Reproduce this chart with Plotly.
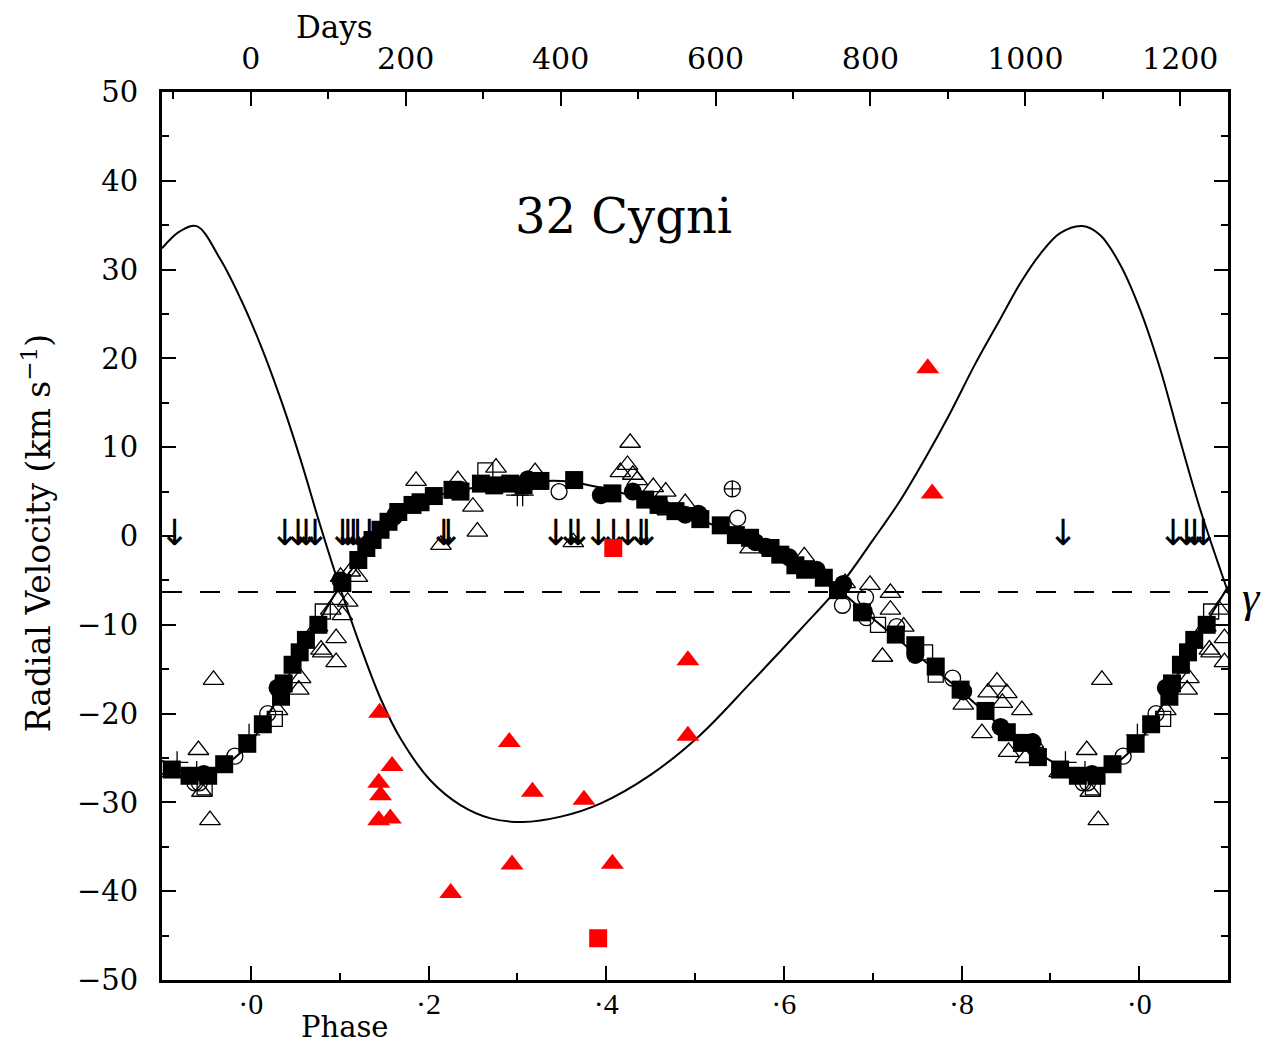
import plotly.graph_objects as go

# ---- data (orbital phase, radial velocity km/s) ----
gamma = -6.3
period_days = 1147

# primary (K star) - filled squares
sq_phase = [0.0135, 0.034, 0.037, 0.047, 0.055, 0.062, 0.076, 0.103, 0.121, 0.130,
            0.137, 0.146, 0.155, 0.166, 0.182, 0.191, 0.206, 0.227, 0.236, 0.259,
            0.274, 0.292, 0.307, 0.326, 0.364, 0.407, 0.444, 0.459, 0.478, 0.506,
            0.529, 0.546, 0.562, 0.585, 0.596, 0.613, 0.624, 0.645, 0.661, 0.688,
            0.726, 0.748, 0.771, 0.799, 0.827, 0.851, 0.868, 0.886, 0.911, 0.931,
            0.952, 0.970, 0.996]
sq_vel = [-21.2, -18.1, -16.6, -14.5, -13.1, -11.7, -10.0, -5.3, -2.7, -1.35,
          -0.45, 0.7, 1.6, 2.7, 3.5, 3.8, 4.5, 5.2, 5.0, 5.9,
          5.7, 5.9, 5.7, 6.2, 6.3, 4.8, 4.1, 3.5, 2.8, 1.9,
          1.2, 0.1, -0.2, -1.35, -2.1, -3.3, -3.8, -4.7, -6.1, -8.6,
          -11.1, -12.3, -14.7, -17.3, -19.7, -22.1, -23.3, -24.9, -26.3, -27.0,
          -27.0, -25.7, -23.4]

# filled circles
fc_phase = [0.030, 0.101, 0.163, 0.236, 0.312, 0.394, 0.430, 0.489, 0.504, 0.568,
            0.580, 0.606, 0.637, 0.667, 0.690, 0.748, 0.802, 0.844, 0.880, 0.947]
fc_vel = [-17.1, -5.0, 2.4, 5.2, 6.4, 4.6, 5.0, 2.4, 2.5, -0.7,
          -1.2, -2.4, -3.8, -5.4, -8.5, -13.4, -17.5, -21.5, -23.2, -26.8]

# open circles
oc_phase = [0.019, 0.161, 0.347, 0.548, 0.666, 0.692, 0.693, 0.727, 0.790, 0.937, 0.942, 0.982]
oc_vel = [-20.0, 2.1, 5.0, 2.0, -7.8, -6.9, -9.2, -10.2, -16.0, -27.8, -27.8, -24.8]

# circle with cross
cx_phase = [0.542]
cx_vel = [5.3]

# open squares
os_phase = [0.027, 0.081, 0.264, 0.706, 0.759, 0.771, 0.948]
os_vel = [-20.6, -8.5, 7.4, -10.0, -13.1, -15.6, -28.3]

# plus signs
pl_phase = [0.300, 0.306, 0.917, 0.939, 0.998]
pl_vel = [4.6, 4.6, -25.5, -26.6, -22.4]

# open triangles
tr_phase = [0.030, 0.054, 0.056, 0.075, 0.079, 0.081, 0.090, 0.096, 0.096, 0.098,
            0.101, 0.103, 0.109, 0.112, 0.120, 0.186, 0.214, 0.233, 0.250, 0.255,
            0.276, 0.320, 0.363, 0.416, 0.424, 0.427, 0.430, 0.435, 0.453, 0.467,
            0.469, 0.489, 0.562, 0.623, 0.669, 0.697, 0.711, 0.720, 0.720, 0.735,
            0.802, 0.823, 0.830, 0.840, 0.846, 0.851, 0.853, 0.868, 0.872, 0.881,
            0.910, 0.941, 0.945, 0.954, 0.958]
tr_vel = [-19.6, -17.3, -16.0, -10.2, -12.8, -13.1, -8.3, -11.5, -14.2, -7.2,
          -4.6, -8.9, -7.4, -4.0, -4.6, 6.2, -1.0, 6.3, 3.3, 0.5,
          7.7, 7.2, -0.7, 7.2, 8.0, 10.5, 6.9, 6.3, 5.5, 5.0,
          2.9, 3.7, -1.4, -2.3, -5.3, -5.5, -13.6, -6.4, -8.3, -10.2,
          -19.0, -22.2, -17.6, -16.4, -18.8, -17.7, -24.3, -19.6, -25.0, -23.3,
          -26.6, -24.1, -28.8, -32.0, -16.2]

# upper limits (arrows)
ar_phase = [0.914, 0.038, 0.053, 0.062, 0.072, 0.103, 0.109, 0.115, 0.120, 0.133,
            0.217, 0.222, 0.343, 0.360, 0.368, 0.391, 0.408, 0.424, 0.439, 0.445]

# secondary (B star) measurements - red
rt_phase = [0.145, 0.144, 0.146, 0.159, 0.144, 0.157, 0.225, 0.291, 0.294, 0.317,
            0.375, 0.407, 0.492, 0.492, 0.762, 0.767]
rt_vel = [-19.9, -27.8, -29.2, -25.9, -32.0, -31.8, -40.2, -23.2, -37.0, -28.8,
          -29.7, -36.9, -14.0, -22.5, 18.9, 4.8]
rs_phase = [0.408, 0.391]
rs_vel = [-1.35, -45.3]

# orbit curves
k_curve_phase = [-0.10, -0.07, -0.05, -0.03, 0.00, 0.025, 0.05, 0.075, 0.10, 0.125,
                 0.15, 0.20, 0.25, 0.30, 0.35, 0.40, 0.45, 0.50, 0.55, 0.60,
                 0.65, 0.70, 0.75, 0.80, 0.85, 0.90, 0.93, 0.95, 0.97, 1.00,
                 1.025, 1.05, 1.075, 1.10]
k_curve_vel = [-25.3, -26.9, -27.1, -25.9, -23.2, -19.2, -14.3, -9.9, -5.7, -2.2,
               0.8, 4.2, 5.4, 6.0, 6.2, 5.3, 3.9, 2.1, -0.1, -2.5,
               -5.2, -9.3, -13.4, -17.5, -21.9, -25.3, -26.9, -27.1, -25.9, -23.2,
               -19.2, -14.3, -9.9, -5.7]

b_curve_phase = [-0.100, -0.080, -0.061, -0.034, -0.011, 0.011, 0.034, 0.056, 0.079, 0.101,
                 0.124, 0.146, 0.169, 0.202, 0.236, 0.270, 0.306, 0.349, 0.394, 0.450,
                 0.506, 0.562, 0.619, 0.664, 0.700, 0.731, 0.760, 0.787, 0.815, 0.844,
                 0.867, 0.889, 0.911, 0.936, 0.956, 0.979, 1.001, 1.024, 1.046, 1.069,
                 1.100]
b_curve_vel = [32.4, 34.3, 34.9, 31.1, 26.6, 21.5, 15.3, 8.6, 0.9, -6.0,
               -12.6, -18.3, -22.9, -27.5, -30.3, -31.8, -32.2, -31.6, -30.1, -26.9,
               -22.4, -16.6, -10.5, -5.5, -0.5, 4.0, 8.9, 13.8, 19.3, 24.5,
               28.6, 31.8, 34.1, 34.9, 33.9, 30.5, 25.5, 18.7, 10.8, 2.9,
               -6.3]

day_ticks = [0, 200, 400, 600, 800, 1000, 1200]
phase_ticks = [0, 0.2, 0.4, 0.6, 0.8, 1.0]
phase_labels = ['·0', '·2', '·4', '·6', '·8', '·0']


def wrap(ph, v=None):
    """repeat points near the ends so the phase axis runs -0.1 .. 1.1"""
    xs, ys = [], []
    for i, p in enumerate(ph):
        y = v[i] if v is not None else 0
        xs.append(p); ys.append(y)
        if p >= 0.9:
            xs.append(p - 1); ys.append(y)
        if p < 0.1:
            xs.append(p + 1); ys.append(y)
    return xs, ys


fig = go.Figure()

# gamma velocity
fig.add_trace(go.Scatter(x=[-0.1, 1.1], y=[gamma, gamma], mode='lines',
                         line=dict(color='black', width=2, dash='20px,18px'),
                         hoverinfo='skip'))

# orbit curves
fig.add_trace(go.Scatter(x=b_curve_phase, y=b_curve_vel, mode='lines',
                         line=dict(color='black', width=2, shape='spline', smoothing=1.0)))
fig.add_trace(go.Scatter(x=k_curve_phase, y=k_curve_vel, mode='lines',
                         line=dict(color='black', width=2, shape='spline', smoothing=1.0)))


def pts(ph, v, symbol, size, color='black', lw=1.3):
    x, y = wrap(ph, v)
    fig.add_trace(go.Scatter(x=x, y=y, mode='markers',
                             marker=dict(symbol=symbol, size=size, color=color,
                                         line=dict(color=color, width=lw))))


pts(tr_phase, tr_vel, 'triangle-up-open', 18)
pts(oc_phase, oc_vel, 'circle-open', 16)
pts(cx_phase, cx_vel, 'circle-cross-open', 16)
pts(os_phase, os_vel, 'square-open', 15)
pts(pl_phase, pl_vel, 'cross-thin-open', 16)
pts(fc_phase, fc_vel, 'circle', 18, lw=0)
pts(sq_phase, sq_vel, 'square', 18, lw=0)

ax, ay = wrap(ar_phase)
fig.add_trace(go.Scatter(x=ax, y=ay, mode='text', text=['↓'] * len(ax),
                         textposition='middle center',
                         textfont=dict(family='DejaVu Sans', size=36, color='black')))

fig.add_trace(go.Scatter(x=rt_phase, y=rt_vel, mode='markers',
                         marker=dict(symbol='triangle-up', size=20, color='#ff0000')))
fig.add_trace(go.Scatter(x=rs_phase, y=rs_vel, mode='markers',
                         marker=dict(symbol='square', size=18, color='#ff0000')))

# dummy trace to activate the top (days) axis
fig.add_trace(go.Scatter(x=[0], y=[0], xaxis='x2', mode='markers',
                         marker=dict(opacity=0), hoverinfo='skip'))

serif = 'DejaVu Serif'
times = 'Liberation Serif'


def label(text, x, y, size, xref='paper', yref='paper', family=serif, **kw):
    fig.add_annotation(text=text, x=x, y=y, xref=xref, yref=yref, showarrow=False,
                       xanchor='center', yanchor='middle', borderpad=0,
                       font=dict(family=family, size=size, color='black'), **kw)


label('32 Cygni', 0.42, 36, 48, xref='x', yref='y')
label('Radial Velocity (km s<sup>−1</sup>)', -0.1173, 0.503, 33, textangle=-90)
label('Days', 0.162, 1.073, 31)
label('Phase', 0.172, -0.053, 29)
label('<i>γ</i>', 1.0225, gamma, 44, yref='y', family=times, yshift=-6)

fig.update_layout(
    width=1254, height=1039,
    margin=dict(l=154, r=34, t=84, b=67),
    plot_bgcolor='white', paper_bgcolor='white',
    showlegend=False,
    xaxis=dict(range=[-0.1, 1.1], tickvals=phase_ticks, ticktext=phase_labels,
               ticks='inside', ticklen=14, tickwidth=1.5, tickcolor='black',
               minor=dict(dtick=0.1, tick0=0, ticks='inside', ticklen=7, tickwidth=1.5,
                          tickcolor='black'),
               showline=True, linewidth=3, linecolor='black', mirror=True,
               showgrid=False, zeroline=False, ticklabelstandoff=-5,
               tickfont=dict(family=times, size=30, color='black')),
    xaxis2=dict(range=[-0.1 * period_days, 1.1 * period_days], overlaying='x', side='top',
                tickvals=day_ticks, ticks='inside', ticklen=14, tickwidth=1.5,
                tickcolor='black',
                minor=dict(dtick=100, tick0=0, ticks='inside', ticklen=7, tickwidth=1.5,
                           tickcolor='black'),
                showline=False, showgrid=False, zeroline=False, ticklabelstandoff=16,
                tickfont=dict(family=serif, size=30, color='black')),
    yaxis=dict(range=[-50, 50], dtick=10, tick0=0, ticks='inside', ticklen=14, tickwidth=1.5,
               tickcolor='black',
               minor=dict(dtick=5, ticks='inside', ticklen=7, tickwidth=1.5, tickcolor='black'),
               showline=True, linewidth=3, linecolor='black', mirror='ticks',
               showgrid=False, zeroline=False, ticklabelstandoff=15,
               tickfont=dict(family=serif, size=29, color='black')),
)

fig.write_html('out.html')
